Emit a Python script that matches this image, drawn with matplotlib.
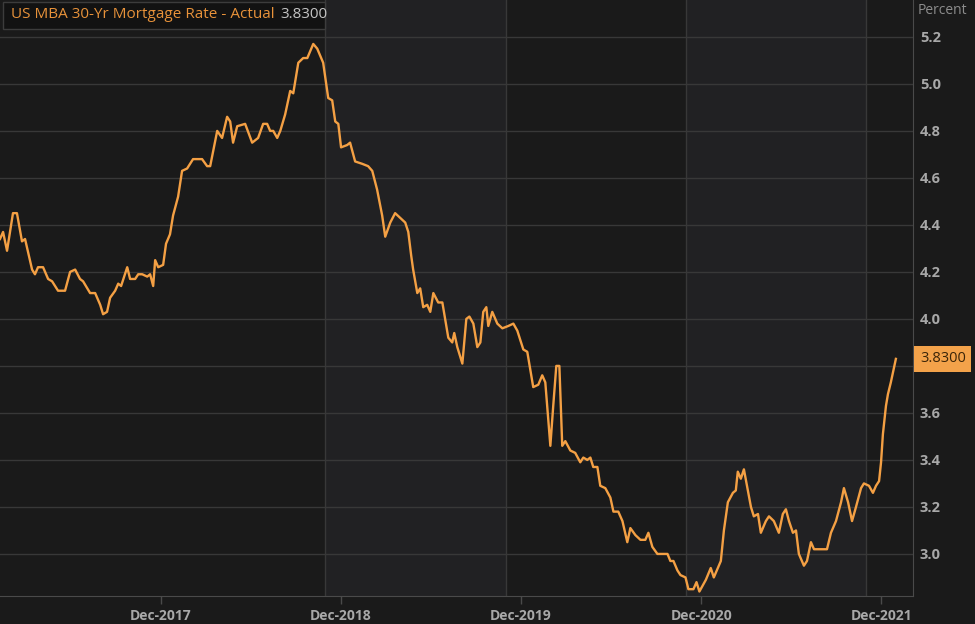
import matplotlib
matplotlib.use("Agg")
import matplotlib.pyplot as plt
import matplotlib.dates as mdates
import pandas as pd

# ---- data (decimal year, percent) ----
dec_years = [
    2017.108, 2017.125, 2017.147, 2017.180, 2017.202, 2017.230, 2017.247, 2017.286, 2017.302, 2017.319,
    2017.347, 2017.375, 2017.397, 2017.430, 2017.469, 2017.497, 2017.525, 2017.552, 2017.569, 2017.608,
    2017.636, 2017.664, 2017.680, 2017.702, 2017.719, 2017.747, 2017.764, 2017.780, 2017.814, 2017.830,
    2017.858, 2017.875, 2017.897, 2017.925, 2017.941, 2017.958, 2017.969, 2017.986, 2018.014, 2018.030,
    2018.052, 2018.069, 2018.097, 2018.119,
    2018.147, 2018.180, 2018.202, 2018.230, 2018.258, 2018.275, 2018.314, 2018.341, 2018.369, 2018.386,
    2018.402, 2018.425, 2018.469, 2018.508, 2018.541, 2018.569, 2018.591, 2018.608, 2018.625, 2018.647,
    2018.664, 2018.691, 2018.719, 2018.736, 2018.764, 2018.791, 2018.814, 2018.847, 2018.869, 2018.902,
    2018.930, 2018.952, 2018.969, 2018.986, 2019.002, 2019.036, 2019.052,
    2019.080, 2019.119, 2019.152, 2019.175, 2019.202, 2019.230, 2019.247, 2019.275, 2019.302, 2019.330,
    2019.358, 2019.375, 2019.391, 2019.402,
    2019.425, 2019.441, 2019.458, 2019.480, 2019.497, 2019.514, 2019.541, 2019.564, 2019.597, 2019.619,
    2019.630, 2019.647, 2019.675, 2019.697, 2019.714, 2019.736, 2019.758, 2019.775, 2019.791, 2019.808,
    2019.819, 2019.841, 2019.869, 2019.897, 2019.930, 2019.958, 2019.980, 2020.014, 2020.036, 2020.069,
    2020.097, 2020.119, 2020.136, 2020.164, 2020.180, 2020.197, 2020.214, 2020.230, 2020.247, 2020.275,
    2020.302, 2020.330,
    2020.347, 2020.369, 2020.386, 2020.402, 2020.425, 2020.441, 2020.469, 2020.497, 2020.514, 2020.541,
    2020.564, 2020.591, 2020.608, 2020.636, 2020.664, 2020.691, 2020.708, 2020.730, 2020.758, 2020.775,
    2020.791, 2020.814, 2020.830, 2020.847, 2020.869, 2020.886, 2020.914, 2020.930, 2020.958, 2020.975,
    2020.991, 2021.025, 2021.052, 2021.069, 2021.091, 2021.108,
    2021.125, 2021.147, 2021.175, 2021.191, 2021.202, 2021.219, 2021.236, 2021.258, 2021.275, 2021.291,
    2021.314, 2021.330, 2021.358, 2021.375, 2021.402, 2021.430, 2021.452, 2021.469, 2021.486, 2021.508,
    2021.525, 2021.541, 2021.569, 2021.586, 2021.608, 2021.625, 2021.652, 2021.675, 2021.697, 2021.719,
    2021.747, 2021.775, 2021.791, 2021.814, 2021.836, 2021.858, 2021.886, 2021.902, 2021.930, 2021.952,
    2021.969, 2021.986, 2021.997, 2022.008, 2022.025, 2022.036, 2022.052, 2022.080,
]
rates = [
    4.34, 4.37, 4.29, 4.45, 4.45, 4.33, 4.34, 4.21, 4.19, 4.22,
    4.22, 4.17, 4.16, 4.12, 4.12, 4.20, 4.21, 4.17, 4.16, 4.11,
    4.11, 4.06, 4.02, 4.03, 4.09, 4.12, 4.15, 4.14, 4.22, 4.17,
    4.17, 4.19, 4.19, 4.18, 4.19, 4.14, 4.25, 4.22, 4.23, 4.32,
    4.36, 4.44, 4.52, 4.63,
    4.64, 4.68, 4.68, 4.68, 4.65, 4.65, 4.80, 4.77, 4.86, 4.84,
    4.75, 4.82, 4.83, 4.75, 4.77, 4.83, 4.83, 4.80, 4.80, 4.77,
    4.80, 4.87, 4.97, 4.96, 5.09, 5.11, 5.11, 5.17, 5.15, 5.09,
    4.94, 4.93, 4.84, 4.83, 4.73, 4.74, 4.75,
    4.67, 4.66, 4.65, 4.63, 4.55, 4.44, 4.35, 4.41, 4.45, 4.43,
    4.41, 4.37, 4.27, 4.21,
    4.11, 4.13, 4.05, 4.06, 4.03, 4.11, 4.07, 4.07, 3.92, 3.90,
    3.94, 3.88, 3.81, 4.00, 4.01, 3.98, 3.88, 3.90, 4.03, 4.05,
    3.97, 4.03, 3.98, 3.96, 3.97, 3.98, 3.95, 3.87, 3.86, 3.71,
    3.72, 3.76, 3.73, 3.46, 3.63, 3.80, 3.80, 3.46, 3.48, 3.44,
    3.43, 3.39,
    3.41, 3.40, 3.41, 3.37, 3.37, 3.29, 3.28, 3.24, 3.18, 3.18,
    3.14, 3.05, 3.11, 3.08, 3.06, 3.06, 3.09, 3.03, 3.00, 3.00,
    3.00, 3.00, 2.97, 2.97, 2.93, 2.91, 2.90, 2.85, 2.85, 2.88,
    2.84, 2.89, 2.94, 2.90, 2.94, 2.97,
    3.10, 3.22, 3.26, 3.27, 3.35, 3.32, 3.36, 3.27, 3.20, 3.16,
    3.17, 3.09, 3.14, 3.16, 3.14, 3.09, 3.17, 3.19, 3.14, 3.09,
    3.10, 3.00, 2.95, 2.97, 3.05, 3.02, 3.02, 3.02, 3.02, 3.09,
    3.14, 3.22, 3.28, 3.22, 3.14, 3.20, 3.28, 3.30, 3.29, 3.26,
    3.29, 3.31, 3.39, 3.51, 3.63, 3.68, 3.73, 3.83,
]
y_ticks = [3.0, 3.2, 3.4, 3.6, 3.8, 4.0, 4.2, 4.4, 4.6, 4.8, 5.0, 5.2]
x_tick_dates = ["2018-01-01", "2019-01-01", "2020-01-01", "2021-01-01", "2022-01-01"]
x_tick_labels = ["Dec-2017", "Dec-2018", "Dec-2019", "Dec-2020", "Dec-2021"]
band_edges = ["2018-12-01", "2019-12-01", "2020-12-01", "2021-12-01"]
series_name = "US MBA 30-Yr Mortgage Rate - Actual"
last_value = "3.8300"
unit = "Percent"


def to_date(y):
    yr = int(y)
    return pd.Timestamp(yr, 1, 1) + pd.Timedelta(days=(y - yr) * 365.25)


dates = [to_date(y) for y in dec_years]

BG = "#1a1a1a"
BAND = "#212123"
GRID = "#383838"
ORANGE = "#f4a044"
TXT = "#a8a8a8"

fig = plt.figure(figsize=(9.75, 6.24), dpi=100, facecolor=BG)
ax = fig.add_axes([0.0, 28 / 624, 913 / 975, 596 / 624])
ax.set_facecolor(BG)

x0 = to_date(2017.108)
x1 = to_date(2022.175)
ax.set_xlim(x0, x1)
ax.set_ylim(2.821, 5.357)

edges = [pd.Timestamp(d) for d in band_edges]
ax.axvspan(edges[0], edges[1], color=BAND, zorder=0, lw=0)
ax.axvspan(edges[2], edges[3], color=BAND, zorder=0, lw=0)
for e in edges:
    ax.axvline(e, color=GRID, lw=1.0, zorder=1)

for yv in y_ticks:
    ax.axhline(yv, color=GRID, lw=1.0, zorder=1)

ax.plot(dates, rates, color=ORANGE, lw=1.7, zorder=3, solid_joinstyle="round")

# axes styling
for s in ["top", "left"]:
    ax.spines[s].set_visible(False)
ax.spines["right"].set_color("#4a4a4a")
ax.spines["bottom"].set_color("#4a4a4a")
ax.yaxis.tick_right()
ax.set_yticks(y_ticks)
ax.set_yticklabels([f"{v:.1f}" for v in y_ticks])
ax.tick_params(axis="y", length=0, pad=5, labelsize=10.5, labelcolor=TXT)
for lbl in ax.get_yticklabels():
    lbl.set_fontweight("bold")
    lbl.set_family("Open Sans")

ax.set_xticks([pd.Timestamp(d) for d in x_tick_dates])
ax.set_xticklabels(x_tick_labels)
ax.tick_params(axis="x", length=6, width=1, color="#4a4a4a", pad=3, labelsize=10, labelcolor=TXT)
for lbl in ax.get_xticklabels():
    lbl.set_fontweight("bold")
    lbl.set_family("Open Sans")

# unit label
fig.text(918 / 975, 1 - 10 / 624, unit, color="#8c8c8c", fontsize=10, family="Open Sans",
         ha="left", va="center")

# last value tag
ax.annotate(last_value, xy=(1.0, rates[-1]), xycoords=("axes fraction", "data"),
            xytext=(5, 0), textcoords="offset points", ha="left", va="center",
            fontsize=10.5, family="Open Sans", color="#3a2408",
            bbox=dict(boxstyle="square,pad=0.38", fc="#f3a24a", ec="none"),
            annotation_clip=False, zorder=5)

# legend box top-left
fig.patches.append(matplotlib.patches.Rectangle((3 / 975, 1 - 29 / 624), 322 / 975, 27 / 624,
                                                transform=fig.transFigure, fc="#121212",
                                                ec="#3c3c3c", lw=1, zorder=4))
t1 = fig.text(11 / 975, 1 - 15 / 624, series_name, color="#e8923a", fontsize=11,
              family="Open Sans", ha="left", va="center", zorder=5)
fig.canvas.draw()
bb = t1.get_window_extent()
fig.text((bb.x1 + 6) / 975, 1 - 15 / 624, last_value, color="#c4c4c4", fontsize=11,
         family="Open Sans", ha="left", va="center", zorder=5)

fig.savefig("out.png", dpi=100, facecolor=BG)
